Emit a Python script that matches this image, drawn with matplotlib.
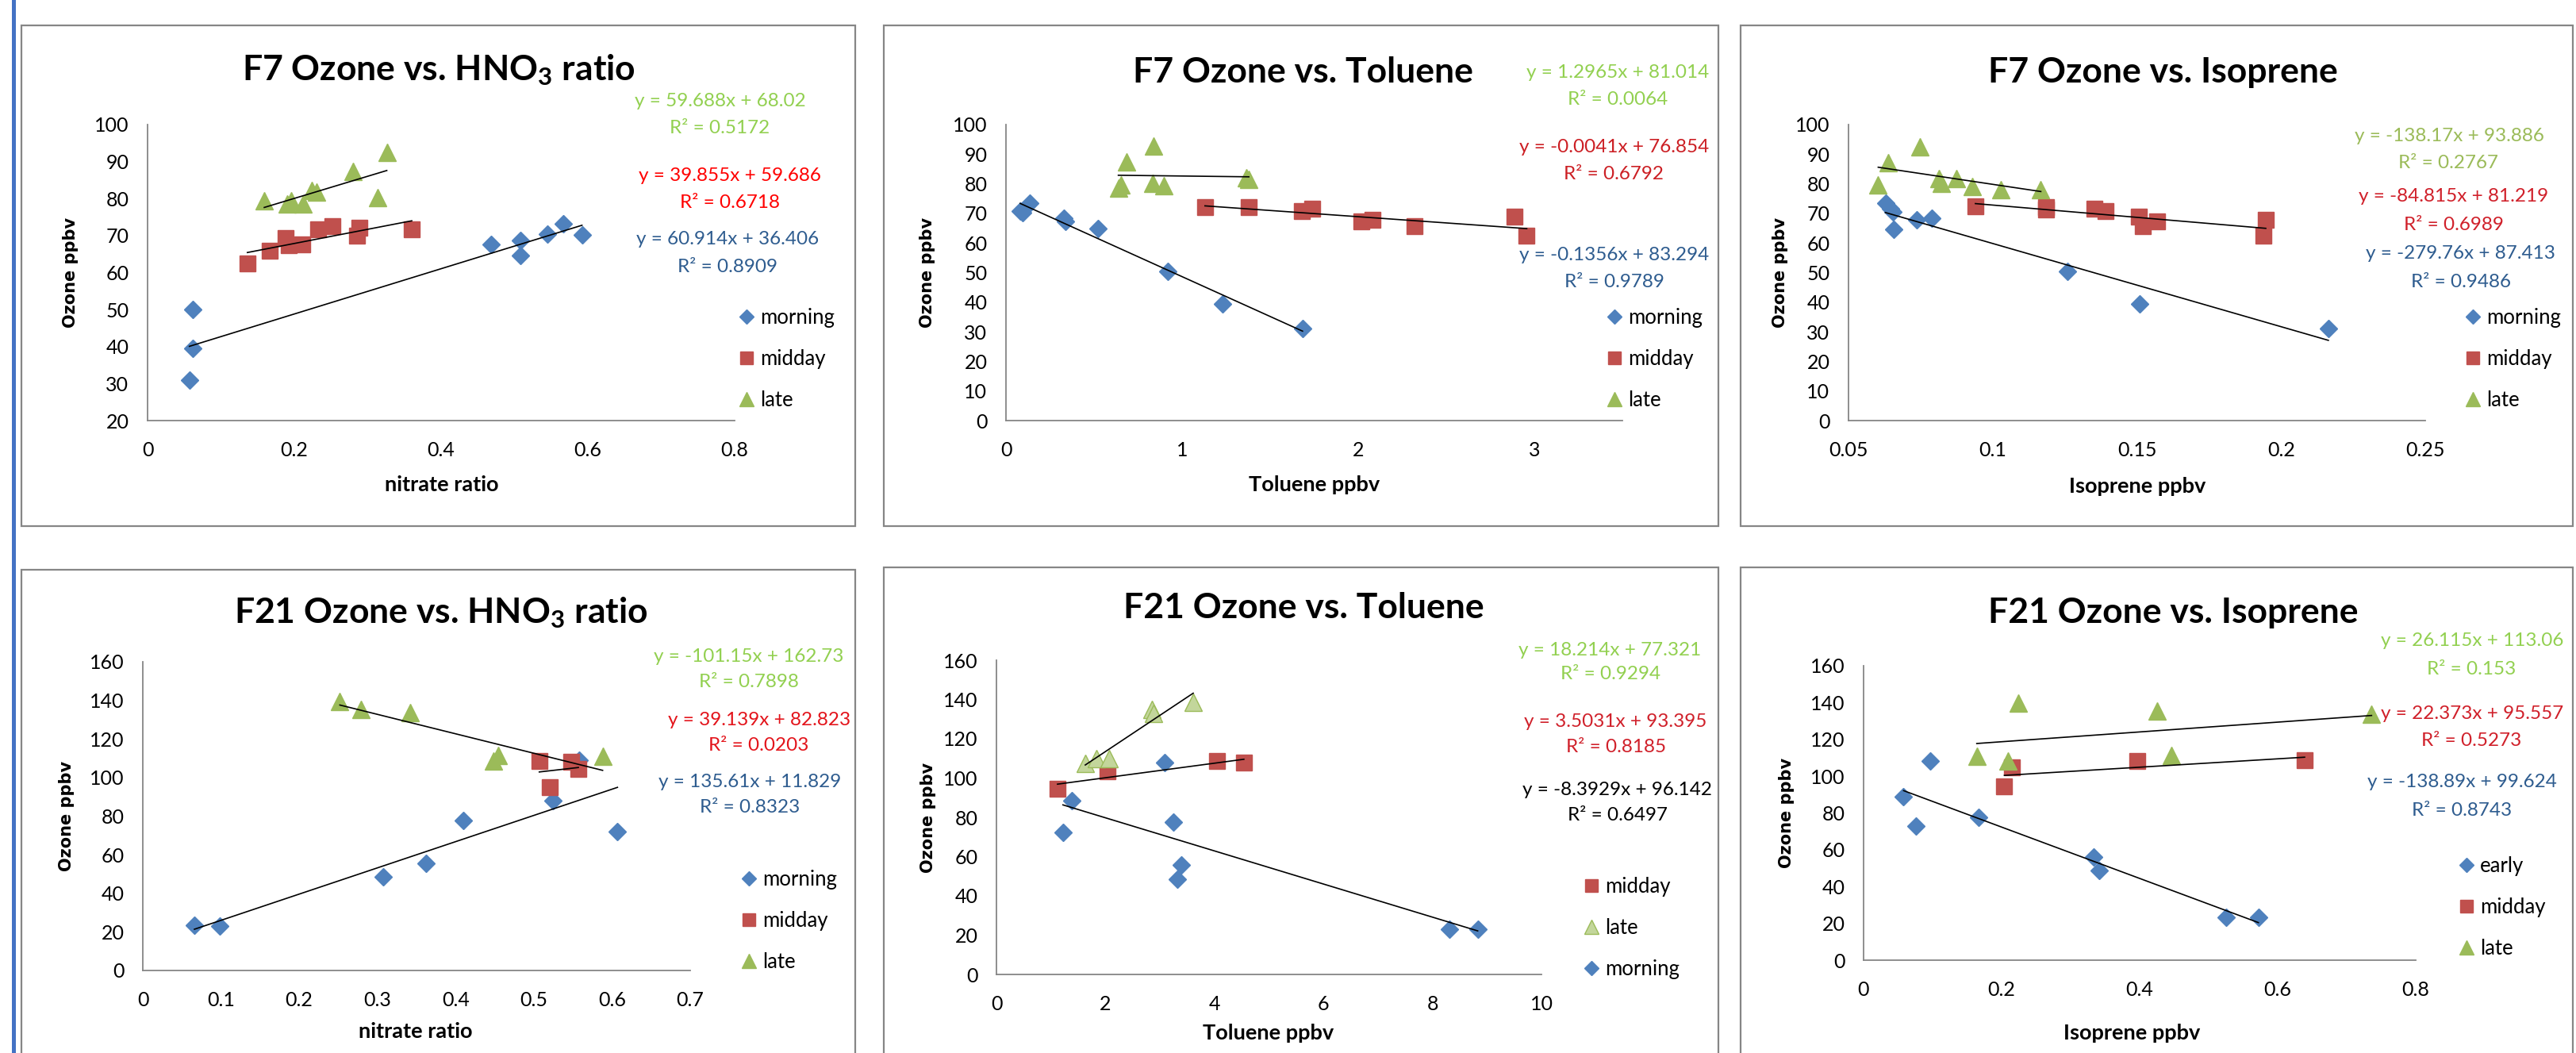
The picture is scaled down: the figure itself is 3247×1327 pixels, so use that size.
import numpy as np
import matplotlib
matplotlib.use("Agg")
import matplotlib.pyplot as plt
from matplotlib.patches import Rectangle

plt.rcParams['font.family'] = ['Lato', 'DejaVu Sans']
plt.rcParams['mathtext.fontset'] = 'custom'
plt.rcParams['mathtext.rm'] = 'Lato:bold'
plt.rcParams['mathtext.it'] = 'Lato:bold:italic'
plt.rcParams['mathtext.bf'] = 'Lato:bold'
plt.rcParams['mathtext.default'] = 'rm'

# ---- data ----
# F7 ozone vs HNO3 ratio
f7_hno3_morning_x = [0.057, 0.062, 0.062, 0.468, 0.508, 0.508, 0.545, 0.566, 0.592]
f7_hno3_morning_y = [31.0, 39.5, 50.0, 67.6, 64.7, 68.6, 70.4, 73.2, 70.2]
f7_hno3_midday_x = [0.136, 0.166, 0.188, 0.192, 0.211, 0.232, 0.252, 0.285, 0.289, 0.360]
f7_hno3_midday_y = [62.5, 65.9, 69.3, 67.3, 67.7, 71.6, 72.6, 70.0, 72.1, 71.6]
f7_hno3_late_x = [0.159, 0.190, 0.196, 0.212, 0.224, 0.230, 0.280, 0.313, 0.326]
f7_hno3_late_y = [79.5, 78.5, 79.5, 78.5, 82.3, 81.8, 87.4, 80.3, 92.4]

# F7 ozone vs toluene
f7_tol_morning_x = [0.081, 0.093, 0.137, 0.330, 0.336, 0.523, 0.921, 1.229, 1.684]
f7_tol_morning_y = [70.9, 70.3, 73.5, 68.4, 67.4, 64.8, 50.3, 39.5, 31.2]
f7_tol_midday_x = [1.130, 1.379, 1.681, 1.737, 2.017, 2.080, 2.322, 2.888, 2.957]
f7_tol_midday_y = [72.1, 72.1, 70.7, 71.7, 67.4, 67.8, 65.7, 69.0, 62.6]
f7_tol_late_x = [0.638, 0.654, 0.685, 0.834, 0.840, 0.896, 1.363, 1.379]
f7_tol_late_y = [78.5, 79.7, 87.4, 80.2, 92.7, 79.4, 82.0, 81.6]

# F7 ozone vs isoprene
f7_iso_morning_x = [0.0628, 0.0645, 0.0655, 0.0657, 0.0737, 0.0789, 0.126, 0.151, 0.2164]
f7_iso_morning_y = [73.5, 71.5, 70.5, 64.5, 67.8, 68.4, 50.3, 39.5, 31.2]
f7_iso_midday_x = [0.094, 0.1186, 0.1186, 0.1354, 0.139, 0.1507, 0.152, 0.157, 0.1947, 0.194]
f7_iso_midday_y = [72.3, 72.1, 71.3, 71.7, 70.7, 69.0, 65.7, 67.2, 67.8, 62.6]
f7_iso_late_x = [0.0603, 0.0638, 0.0747, 0.0813, 0.0823, 0.0875, 0.0928, 0.1027, 0.1167]
f7_iso_late_y = [79.7, 87.2, 92.4, 81.9, 80.2, 81.9, 79.1, 77.9, 78.1]

# F21 ozone vs HNO3 ratio
f21_hno3_morning_x = [0.066, 0.098, 0.307, 0.362, 0.410, 0.524, 0.558, 0.607]
f21_hno3_morning_y = [23.5, 23.2, 48.5, 55.6, 77.8, 88.2, 109.0, 72.0]
f21_hno3_midday_x = [0.507, 0.520, 0.548, 0.557]
f21_hno3_midday_y = [108.5, 95.1, 108.2, 104.6]
f21_hno3_late_x = [0.252, 0.279, 0.342, 0.448, 0.454, 0.588]
f21_hno3_late_y = [139.5, 135.4, 133.7, 108.5, 111.5, 111.2]

# F21 ozone vs toluene
f21_tol_morning_x = [1.22, 1.38, 3.08, 3.24, 3.32, 3.39, 8.31, 8.83]
f21_tol_morning_y = [72.4, 88.4, 107.8, 77.6, 48.5, 55.8, 23.1, 23.1]
f21_tol_midday_x = [1.12, 2.04, 4.05, 4.54]
f21_tol_midday_y = [94.5, 103.4, 108.6, 108.0]
f21_tol_late_x = [1.63, 1.83, 2.06, 2.86, 2.88, 3.61]
f21_tol_late_y = [107.4, 109.9, 109.9, 135.0, 133.0, 138.7]

# F21 ozone vs isoprene
f21_iso_early_x = [0.058, 0.076, 0.097, 0.167, 0.333, 0.341, 0.525, 0.572]
f21_iso_early_y = [88.9, 72.8, 108.2, 77.7, 56.1, 48.7, 23.4, 23.4]
f21_iso_midday_x = [0.204, 0.215, 0.397, 0.639]
f21_iso_midday_y = [94.6, 104.7, 108.2, 108.7]
f21_iso_late_x = [0.164, 0.209, 0.224, 0.425, 0.446, 0.736]
f21_iso_late_y = [110.7, 108.2, 139.7, 135.4, 111.3, 133.7]

titles = ['F7 Ozone vs. HNO$_3$ ratio', 'F7 Ozone vs. Toluene', 'F7 Ozone vs. Isoprene',
          'F21 Ozone vs. HNO$_3$ ratio', 'F21 Ozone vs. Toluene', 'F21 Ozone vs. Isoprene']
xlabels = ['nitrate ratio', 'Toluene ppbv', 'Isoprene ppbv',
           'nitrate ratio', 'Toluene ppbv', 'Isoprene ppbv']

eq_texts = [
    ['y = 59.688x + 68.02', 'R² = 0.5172', 'y = 39.855x + 59.686', 'R² = 0.6718',
     'y = 60.914x + 36.406', 'R² = 0.8909'],
    ['y = 1.2965x + 81.014', 'R² = 0.0064', 'y = -0.0041x + 76.854', 'R² = 0.6792',
     'y = -0.1356x + 83.294', 'R² = 0.9789'],
    ['y = -138.17x + 93.886', 'R² = 0.2767', 'y = -84.815x + 81.219', 'R² = 0.6989',
     'y = -279.76x + 87.413', 'R² = 0.9486'],
    ['y = -101.15x + 162.73', 'R² = 0.7898', 'y = 39.139x + 82.823', 'R² = 0.0203',
     'y = 135.61x + 11.829', 'R² = 0.8323'],
    ['y = 18.214x + 77.321', 'R² = 0.9294', 'y = 3.5031x + 93.395', 'R² = 0.8185',
     'y = -8.3929x + 96.142', 'R² = 0.6497'],
    ['y = 26.115x + 113.06', 'R² = 0.153', 'y = 22.373x + 95.557', 'R² = 0.5273',
     'y = -138.89x + 99.624', 'R² = 0.8743'],
]

BLUE = '#4F81BD'
RED = '#C0504D'
GREEN = '#9BBB59'

W, H = 3247, 1327


def fx(px):
    return px / W


def fy(py):
    return 1 - py / H


fig = plt.figure(figsize=(W / 100, H / 100), dpi=100)
fig.patch.set_facecolor('white')

# blue bar on the far left
fig.add_artist(Rectangle((fx(15), 0), fx(5), 1, transform=fig.transFigure,
                         facecolor='#4472C4', edgecolor='none'))

# panel frames (left, top, right, bottom) in px
frames = [(27, 32, 1078, 663), (1114, 32, 2166, 663), (2194, 32, 3243, 663),
          (27, 718, 1078, 1340), (1114, 715, 2166, 1340), (2194, 715, 3243, 1340)]
for l, t, r, b in frames:
    fig.add_artist(Rectangle((fx(l), fy(b)), fx(r) - fx(l), (b - t) / H,
                             transform=fig.transFigure, facecolor='none',
                             edgecolor='#868686', linewidth=1.6))

# axes boxes: x0, x1, ytop, ybottom in px
boxes = [(186, 926, 157, 530), (1268, 2045, 157, 530), (2330, 3057, 157, 530),
         (180, 870, 834, 1223), (1256, 1943, 832, 1228), (2349, 3045, 839, 1210)]
xlims = [(0, 0.8), (0, 3.5), (0.05, 0.25), (0, 0.7), (0, 10), (0, 0.8)]
xticks = [np.arange(0, 0.81, 0.2), np.arange(0, 3.1, 1), np.arange(0.05, 0.251, 0.05),
          np.arange(0, 0.71, 0.1), np.arange(0, 10.1, 2), np.arange(0, 0.81, 0.2)]
ylims = [(20, 100), (0, 100), (0, 100), (0, 160), (0, 160), (0, 160)]
ysteps = [10, 10, 10, 20, 20, 20]

series = [
    [('morning', f7_hno3_morning_x, f7_hno3_morning_y, 'D'),
     ('midday', f7_hno3_midday_x, f7_hno3_midday_y, 's'),
     ('late', f7_hno3_late_x, f7_hno3_late_y, '^')],
    [('morning', f7_tol_morning_x, f7_tol_morning_y, 'D'),
     ('midday', f7_tol_midday_x, f7_tol_midday_y, 's'),
     ('late', f7_tol_late_x, f7_tol_late_y, '^')],
    [('morning', f7_iso_morning_x, f7_iso_morning_y, 'D'),
     ('midday', f7_iso_midday_x, f7_iso_midday_y, 's'),
     ('late', f7_iso_late_x, f7_iso_late_y, '^')],
    [('morning', f21_hno3_morning_x, f21_hno3_morning_y, 'D'),
     ('midday', f21_hno3_midday_x, f21_hno3_midday_y, 's'),
     ('late', f21_hno3_late_x, f21_hno3_late_y, '^')],
    [('midday', f21_tol_midday_x, f21_tol_midday_y, 's'),
     ('late', f21_tol_late_x, f21_tol_late_y, '^'),
     ('morning', f21_tol_morning_x, f21_tol_morning_y, 'D')],
    [('early', f21_iso_early_x, f21_iso_early_y, 'D'),
     ('midday', f21_iso_midday_x, f21_iso_midday_y, 's'),
     ('late', f21_iso_late_x, f21_iso_late_y, '^')],
]

# title centre, xlabel centre, ylabel centre x (px)
title_pos = [(553, 88), (1642, 91), (2726, 91), (556, 772), (1643, 766), (2739, 772)]
xlabel_pos = [(557, 611), (1657, 611), (2694, 613), (524, 1300), (1599, 1302), (2687, 1302)]
ylabel_x = [89, 1169, 2244, 84, 1170, 2252]

# equation line centres (px): green eq, green R2, red eq, red R2, blue eq, blue R2
eq_pos = [
    [(908, 127), (907, 161), (920, 222), (920, 256), (917, 302), (917, 336)],
    [(2039, 91), (2039, 126), (2035, 186), (2034, 220), (2035, 321), (2035, 356)],
    [(3087, 172), (3086, 205), (3093, 248), (3093, 283), (3101, 320), (3102, 356)],
    [(944, 827), (944, 859), (957, 907), (956, 939), (945, 985), (945, 1017)],
    [(2029, 819), (2030, 850), (2036, 910), (2037, 941), (2038, 996), (2039, 1028)],
    [(3116, 808), (3115, 843), (3116, 900), (3115, 934), (3103, 986), (3103, 1021)],
]
eq_colors = [
    ['#92D050', '#FF0000', '#2E5C8F'],
    ['#92D050', '#CC1F24', '#2E5C8F'],
    ['#9BBB59', '#D0202A', '#2E5C8F'],
    ['#92D050', '#E3141B', '#2E5C8F'],
    ['#92D050', '#D0202A', '#000000'],
    ['#92D050', '#D0202A', '#2E5C8F'],
]
# legend: marker x, y of first entry (px)
legend_pos = [(942, 397), (2036, 397), (3118, 397), (945, 1105), (2007, 1114), (3110, 1088)]

styles = {
    'D': dict(color=BLUE, ms=11.5),
    's': dict(color=RED, ms=14),
    '^': dict(color=GREEN, ms=16),
}

for i in range(6):
    x0, x1, yt, yb = boxes[i]
    ax = fig.add_axes([fx(x0), fy(yb), fx(x1) - fx(x0), (yb - yt) / H])
    ax.set_facecolor('none')
    for s in ['top', 'right']:
        ax.spines[s].set_visible(False)
    for s in ['left', 'bottom']:
        ax.spines[s].set_color('#868686')
        ax.spines[s].set_linewidth(1.3)

    handles = []
    for name, xs, ys, mk in series[i]:
        st = styles[mk]
        face = st['color']
        edge = st['color']
        if i == 4 and name == 'late':
            face = '#C3D69B'
            edge = GREEN
        h, = ax.plot(xs, ys, linestyle='none', marker=mk, markersize=st['ms'],
                     markerfacecolor=face, markeredgecolor=edge, markeredgewidth=1,
                     label=name, zorder=2, clip_on=False)
        handles.append(h)
        # linear trend line over the data range
        k, c = np.polyfit(xs, ys, 1)
        xx = np.array([min(xs), max(xs)])
        ax.plot(xx, k * xx + c, color='black', linewidth=1.2, zorder=3)

    ax.set_xlim(*xlims[i])
    ax.set_ylim(*ylims[i])
    ax.set_xticks(xticks[i])
    ax.set_xticklabels(['{:g}'.format(round(v, 3)) for v in xticks[i]])
    yt_vals = np.arange(ylims[i][0], ylims[i][1] + 1, ysteps[i])
    ax.set_yticks(yt_vals)
    ax.set_yticklabels([str(int(v)) for v in yt_vals])
    ax.tick_params(axis='both', length=0, labelsize=18, colors='black')
    ax.tick_params(axis='x', pad=19)
    ax.tick_params(axis='y', pad=17)

    tx, ty = title_pos[i]
    fig.text(fx(tx), fy(ty), titles[i], ha='center', va='center',
             fontsize=32, fontweight='bold')
    lx, ly = xlabel_pos[i]
    fig.text(fx(lx), fy(ly), xlabels[i], ha='center', va='center',
             fontsize=19.5, fontweight='bold')
    fig.text(fx(ylabel_x[i]), fy((yt + yb) / 2), 'Ozone ppbv', ha='center', va='center',
             rotation=90, fontsize=15, fontweight='bold', family='DejaVu Sans')

    for j, (ex, ey) in enumerate(eq_pos[i]):
        fig.text(fx(ex), fy(ey), eq_texts[i][j], ha='center', va='center',
                 fontsize=17.5, color=eq_colors[i][j // 2])

    mx, my = legend_pos[i]
    ax.legend(handles=handles, loc='upper left',
              bbox_to_anchor=(fx(mx - 12), fy(my - 9)),
              bbox_transform=fig.transFigure, frameon=False,
              fontsize=18.5, markerscale=0.8, handlelength=0.85,
              handletextpad=0.25, labelspacing=1.05, borderpad=0,
              borderaxespad=0)

fig.savefig('out.png', dpi=100, facecolor='white')
